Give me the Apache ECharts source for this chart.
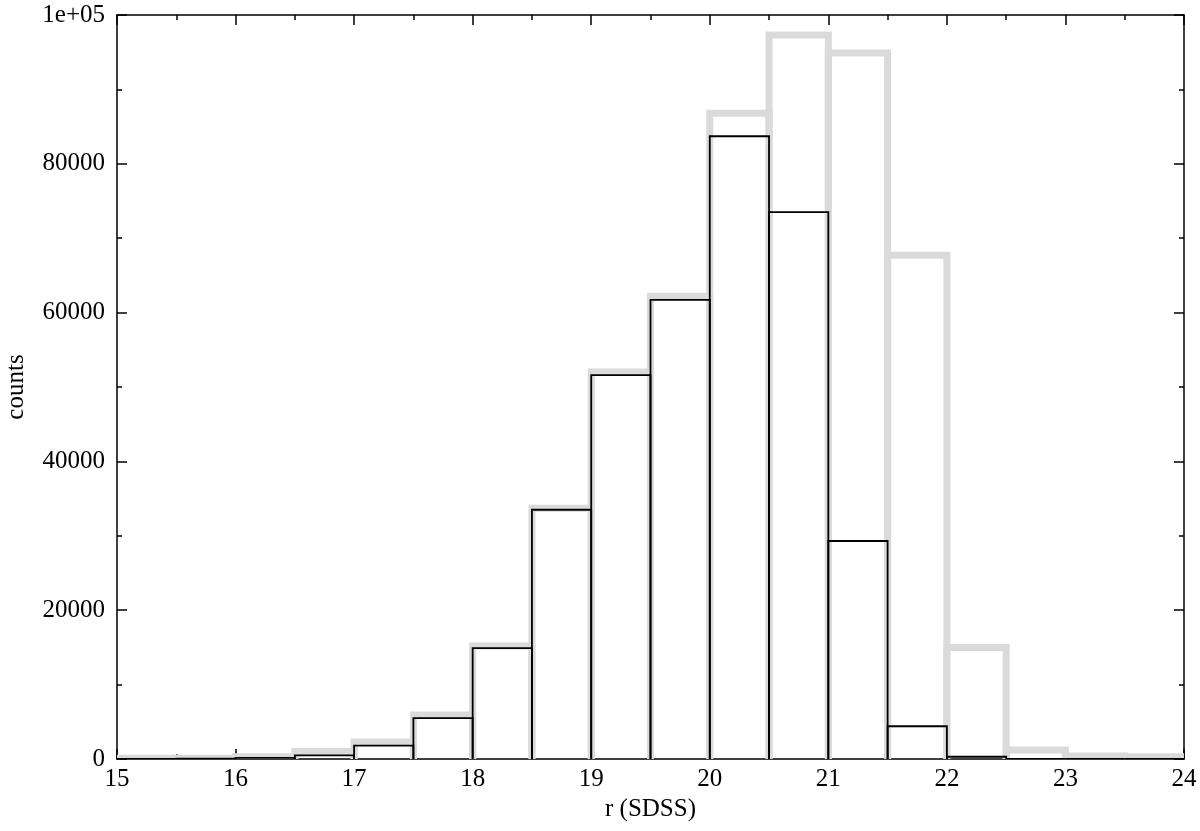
<!DOCTYPE html>
<html>
<head>
<meta charset="utf-8">
<script src="https://cdn.jsdelivr.net/npm/echarts@6/dist/echarts.min.js"></script>
<style>html,body{margin:0;padding:0;background:#fff;}#c{width:1200px;height:831px;}</style>
</head>
<body>
<div id="c"></div>
<script>
const binStarts = [15,15.5,16,16.5,17,17.5,18,18.5,19,19.5,20,20.5,21,21.5,22,22.5,23,23.5];
const binWidth = 0.5;
const grayCounts  = [100,100,300,1000,2300,5900,15200,33700,52000,62200,86800,97300,94900,67700,15000,1200,400,300];
const blackCounts = [0,50,150,500,1800,5500,14900,33500,51600,61700,83700,73500,29300,4400,300,0,0,0];
const yTickLabels = {0:'0',20000:'20000',40000:'40000',60000:'60000',80000:'80000',100000:'1e+05'};

function mk(counts){ return binStarts.map((s,i)=>[s, s+binWidth, counts[i]]); }
function rend(color, lw){
  return function(params, api){
    const x0=api.value(0), x1=api.value(1), y=api.value(2);
    const p0=api.coord([x0,0]), p1=api.coord([x1,y]);
    return {type:'polyline', shape:{points:[[p0[0],p0[1]],[p0[0],p1[1]],[p1[0],p1[1]],[p1[0],p0[1]]]},
      style:{stroke:color, lineWidth:lw, fill:null, lineJoin:'miter'}};
  };
}
const font = 'Liberation Serif';
const fs = 25;
const axLine = {show:true, onZero:false, lineStyle:{color:'#000', width:1.5}};
const tick = {show:true, inside:true, length:10, lineStyle:{color:'#000', width:1.5}};
const minor = {show:true, splitNumber:2, length:5, lineStyle:{color:'#000', width:1.5}};
const chart = echarts.init(document.getElementById('c'));
chart.setOption({
  animation:false,
  grid:{left:117, right:16, top:15, bottom:72, containLabel:false, outerBoundsMode:'none'},
  xAxis:[{
    type:'value', min:15, max:24, interval:1, position:'bottom',
    name:'r (SDSS)', nameLocation:'middle', nameGap:36,
    nameTextStyle:{fontFamily:font, fontSize:fs, color:'#000'},
    axisLine:axLine, axisTick:tick, minorTick:minor,
    axisLabel:{fontFamily:font, fontSize:fs, color:'#000', margin:8, formatter:v=>String(v)},
    splitLine:{show:false}, minorSplitLine:{show:false}
  },{
    type:'value', min:15, max:24, interval:1, position:'top',
    axisLine:axLine, axisTick:tick, minorTick:minor,
    axisLabel:{show:false}, splitLine:{show:false}
  }],
  yAxis:[{
    type:'value', min:0, max:100000, interval:20000, position:'left',
    name:'counts', nameLocation:'middle', nameGap:88, nameRotate:90,
    nameTextStyle:{fontFamily:font, fontSize:fs, color:'#000'},
    axisLine:axLine, axisTick:tick, minorTick:minor,
    axisLabel:{fontFamily:font, fontSize:fs, color:'#000', margin:12, formatter:v=>yTickLabels[v]!==undefined?yTickLabels[v]:String(v)},
    splitLine:{show:false}
  },{
    type:'value', min:0, max:100000, interval:20000, position:'right',
    axisLine:axLine, axisTick:tick, minorTick:minor,
    axisLabel:{show:false}, splitLine:{show:false}
  }],
  series:[
    {type:'custom', name:'all', xAxisIndex:0, yAxisIndex:0, renderItem:rend('#dadada',7), data:mk(grayCounts), z:1, clip:true},
    {type:'custom', name:'sel', xAxisIndex:0, yAxisIndex:0, renderItem:rend('#000',1.8), data:mk(blackCounts), z:2, clip:true}
  ]
});
</script>
</body>
</html>
